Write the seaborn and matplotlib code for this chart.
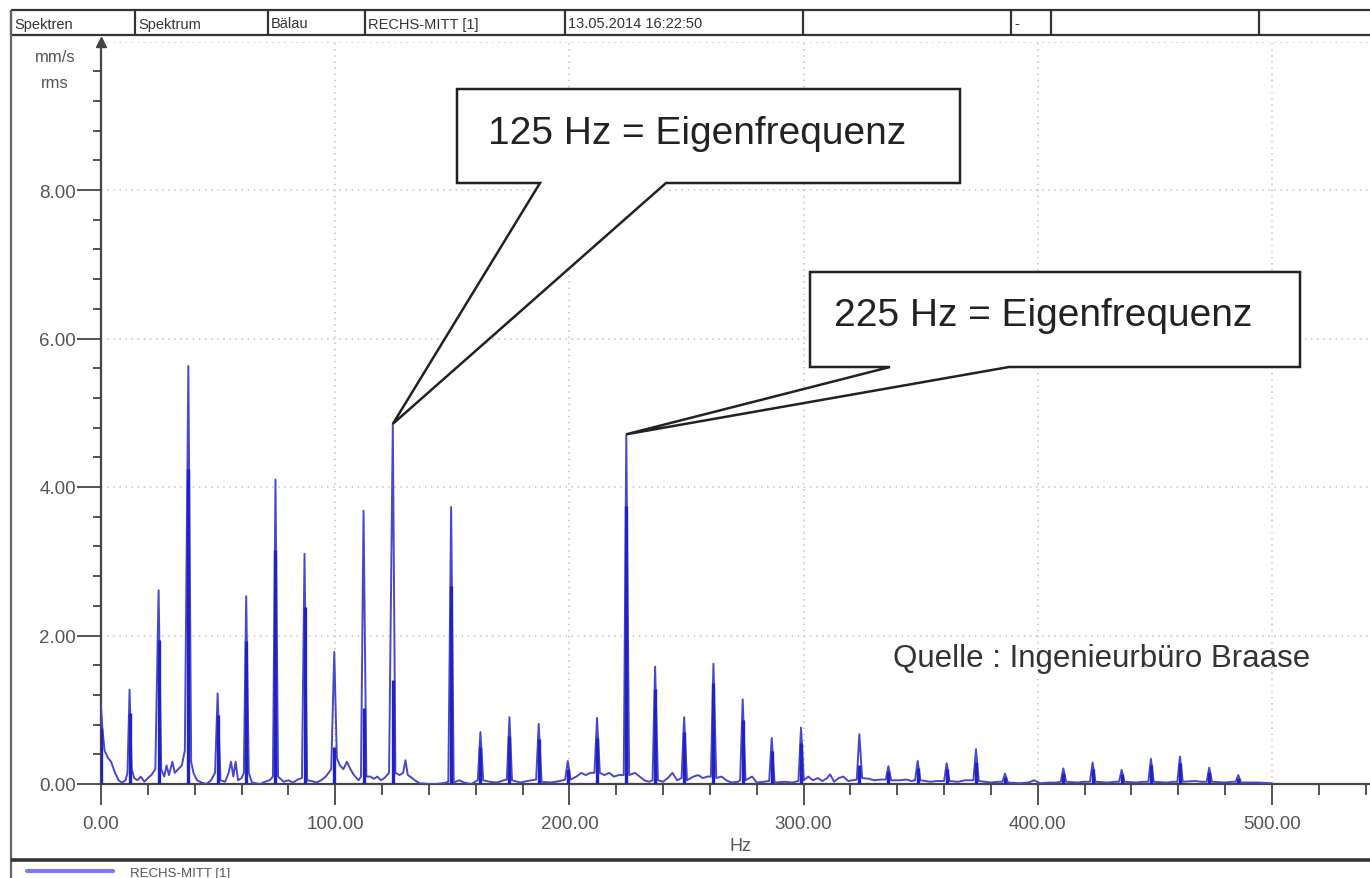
"""
Vibration spectrum (RECHS-MITT [1]) with the two natural-frequency callouts.
"""

import numpy as np
import pandas as pd
import matplotlib
matplotlib.use("Agg")
import matplotlib.pyplot as plt
from matplotlib.patches import Polygon
import seaborn as sns

# Header row of the report -----------------------------------------------------
header_cells = ["Spektren", "Spektrum", "Bälau", "RECHS-MITT [1]",
                "13.05.2014 16:22:50", "", "-", "", ""]

# Spectrum peaks (Hz, mm/s rms) and the darker lower part of each peak ----------
peak_freq = [0.0, 12.2, 24.6, 37.3, 49.8, 62.0, 74.5, 86.9, 99.6, 112.1,
             124.6, 149.5, 162.0, 174.4, 186.9, 199.3, 211.8, 224.3, 236.6, 249.0,
             261.5, 274.0, 286.4, 298.9, 323.8, 336.2, 348.7, 361.1, 373.6, 386.0,
             410.9, 423.4, 435.8, 448.3, 460.7, 473.2, 485.6]
peak_amp = [1.05, 1.27, 2.61, 5.63, 1.22, 2.53, 4.10, 3.10, 1.78, 3.68,
            4.85, 3.73, 0.70, 0.90, 0.81, 0.31, 0.89, 4.71, 1.58, 0.90,
            1.62, 1.14, 0.62, 0.76, 0.67, 0.24, 0.31, 0.28, 0.47, 0.14,
            0.21, 0.29, 0.19, 0.34, 0.37, 0.22, 0.12]
peak_core = [0.75, 0.95, 1.94, 4.24, 0.93, 1.92, 3.15, 2.38, 0.50, 1.02,
             1.40, 2.66, 0.50, 0.64, 0.60, 0.20, 0.62, 3.75, 1.28, 0.70,
             1.36, 0.86, 0.45, 0.55, 0.25, 0.17, 0.22, 0.20, 0.30, 0.09,
             0.15, 0.20, 0.14, 0.25, 0.28, 0.16, 0.08]

# Noise floor between the peaks (Hz, mm/s rms) ---------------------------------
floor_points = [
    (0.6, 0.75), (1.5, 0.45), (3.0, 0.35), (4.3, 0.30), (6.0, 0.15), (7.5, 0.05),
    (9.0, 0.02), (10.5, 0.05), (11.3, 0.15), (13.1, 0.20), (14.2, 0.08),
    (15.5, 0.05), (17.0, 0.10), (18.5, 0.03), (20.0, 0.08), (21.5, 0.12),
    (23.2, 0.20), (25.7, 0.20), (27.0, 0.10), (28.0, 0.25), (29.0, 0.12),
    (30.5, 0.30), (31.5, 0.15), (33.0, 0.20), (34.5, 0.25), (35.8, 0.45),
    (38.5, 0.30), (39.5, 0.15), (41.0, 0.05), (43.0, 0.02), (45.0, 0.00),
    (47.0, 0.05), (48.7, 0.15), (51.0, 0.05), (53.0, 0.03), (54.5, 0.15),
    (55.5, 0.30), (56.5, 0.10), (57.5, 0.30), (58.5, 0.05), (60.0, 0.08),
    (61.0, 0.15), (63.1, 0.15), (64.5, 0.02), (66.0, 0.01), (68.0, 0.00),
    (70.0, 0.03), (72.0, 0.05), (73.4, 0.10), (75.6, 0.10), (78.0, 0.03),
    (80.0, 0.05), (82.0, 0.02), (84.0, 0.06), (85.8, 0.08), (88.0, 0.05),
    (90.0, 0.04), (92.0, 0.02), (94.0, 0.05), (96.0, 0.10), (98.3, 0.20),
    (100.7, 0.35), (102.0, 0.25), (103.5, 0.20), (105.0, 0.30), (106.5, 0.20),
    (108.0, 0.12), (110.0, 0.05), (111.0, 0.10), (113.3, 0.10), (115.0, 0.10),
    (116.5, 0.07), (118.0, 0.10), (119.5, 0.05), (121.0, 0.08), (123.0, 0.15),
    (125.7, 0.15), (127.5, 0.12), (129.0, 0.15), (130.0, 0.32), (131.0, 0.12),
    (132.0, 0.10), (134.0, 0.05), (136.0, 0.01), (140.0, 0.00), (143.0, 0.00),
    (146.0, 0.01), (148.3, 0.03), (150.6, 0.02), (153.0, 0.05), (155.0, 0.02),
    (158.0, 0.00), (160.9, 0.05), (163.2, 0.05), (166.0, 0.03), (169.0, 0.02),
    (172.0, 0.05), (173.3, 0.06), (175.5, 0.05), (179.0, 0.02), (182.0, 0.04),
    (185.8, 0.06), (188.1, 0.03), (192.0, 0.02), (196.0, 0.04), (198.2, 0.06),
    (200.5, 0.06), (203.0, 0.10), (205.0, 0.15), (207.0, 0.12), (209.0, 0.15),
    (210.7, 0.15), (213.0, 0.15), (215.0, 0.12), (217.0, 0.15), (219.0, 0.10),
    (221.0, 0.12), (223.2, 0.12), (225.5, 0.12), (228.0, 0.15), (230.0, 0.10),
    (232.0, 0.05), (234.0, 0.03), (235.5, 0.05), (237.8, 0.05), (240.0, 0.03),
    (242.0, 0.08), (244.0, 0.15), (246.0, 0.05), (247.9, 0.08), (250.2, 0.05),
    (253.0, 0.10), (255.0, 0.12), (257.0, 0.08), (259.0, 0.10), (260.4, 0.10),
    (262.7, 0.08), (265.0, 0.10), (267.0, 0.05), (269.0, 0.02), (272.0, 0.03),
    (272.9, 0.05), (275.2, 0.05), (278.0, 0.10), (280.0, 0.02), (283.0, 0.03),
    (285.3, 0.04), (287.6, 0.02), (292.0, 0.03), (295.0, 0.02), (297.8, 0.04),
    (300.1, 0.05), (302.0, 0.10), (304.0, 0.05), (306.0, 0.08), (308.0, 0.04),
    (310.0, 0.08), (311.3, 0.13), (313.0, 0.03), (315.0, 0.08), (317.0, 0.10),
    (319.0, 0.04), (321.0, 0.05), (322.7, 0.06), (325.0, 0.08), (328.0, 0.07),
    (330.0, 0.05), (333.0, 0.06), (335.1, 0.06), (337.4, 0.05), (341.0, 0.05),
    (344.0, 0.06), (346.0, 0.04), (347.6, 0.05), (349.9, 0.05), (354.0, 0.03),
    (357.0, 0.04), (360.0, 0.04), (362.3, 0.04), (366.0, 0.03), (369.0, 0.05),
    (372.5, 0.05), (374.8, 0.04), (380.0, 0.02), (383.0, 0.03), (384.9, 0.03),
    (387.2, 0.02), (392.0, 0.01), (396.0, 0.02), (398.5, 0.05), (401.0, 0.01),
    (405.0, 0.02), (408.0, 0.02), (409.8, 0.03), (412.1, 0.03), (417.0, 0.02),
    (420.0, 0.03), (422.3, 0.03), (424.6, 0.03), (430.0, 0.02), (433.0, 0.03),
    (434.7, 0.03), (437.0, 0.03), (442.0, 0.02), (445.0, 0.03), (447.2, 0.03),
    (449.5, 0.03), (455.0, 0.02), (458.0, 0.03), (459.6, 0.03), (461.9, 0.03),
    (467.0, 0.04), (470.0, 0.03), (472.1, 0.03), (474.4, 0.03), (480.0, 0.02),
    (483.0, 0.03), (484.5, 0.03), (486.8, 0.02), (494.0, 0.02), (500.0, 0.01),
]

callouts = ["125 Hz = Eigenfrequenz", "225 Hz = Eigenfrequenz"]
callout_peaks = [124.6, 224.3]
source_note = "Quelle : Ingenieurbüro Braase"
series_name = "RECHS-MITT [1]"

# Figure geometry (pixels of the 1370 x 879 page) -------------------------------
W, H = 1370, 879
X0, Y0 = 101, 785              # pixel of (0 Hz, 0 mm/s)
PX_HZ, PX_UNIT = 2.342, 74.25  # pixels per Hz / per mm/s
XMAX, YMAX = 560, 10

LINE_BLUE = "#4848cc"
CORE_BLUE = "#2222c4"
AXIS_GREY = "#444444"


def px_to_data(px, py):
    return (px - X0) / PX_HZ, (Y0 - py) / PX_UNIT


def main():
    sns.set_style("white")
    plt.rcParams["font.family"] = ["Liberation Sans", "DejaVu Sans"]

    fig = plt.figure(figsize=(W / 100, H / 100), dpi=100)
    ax = fig.add_axes([X0 / W, (H - Y0) / H, XMAX * PX_HZ / W, YMAX * PX_UNIT / H])

    # spectrum line: floor and peaks together, sorted by frequency
    floor_freq = [f for f, _ in floor_points]
    floor_amp = [a for _, a in floor_points]
    df = pd.DataFrame({"freq": floor_freq + peak_freq,
                       "amp": floor_amp + peak_amp})
    sns.lineplot(data=df, x="freq", y="amp", ax=ax, color=LINE_BLUE,
                 lw=1.4, estimator=None, sort=True, zorder=3)
    ax.vlines(peak_freq, 0, peak_core, color=CORE_BLUE, lw=2.4, zorder=3)

    ax.set_xlim(0, XMAX)
    ax.set_ylim(0, YMAX)

    # ticks ----------------------------------------------------------------
    xt = list(range(0, 501, 100))
    ax.set_xticks(xt)
    ax.set_xticklabels([f"{v:.2f}" for v in xt])
    ax.set_xticks(np.arange(0, XMAX + 1, 20), minor=True)
    yt = [0, 2, 4, 6, 8]
    ax.set_yticks(yt)
    ax.set_yticklabels([f"{v:.2f}" for v in yt])
    ax.set_yticks(np.arange(0, 9.7, 0.4), minor=True)
    ax.tick_params(axis="x", which="major", length=15, width=1.3, pad=7,
                   bottom=True, color=AXIS_GREY, labelcolor="#555555",
                   labelsize=13.5, direction="out")
    ax.tick_params(axis="x", which="minor", length=8, width=1.3, bottom=True,
                   color=AXIS_GREY, direction="out")
    ax.tick_params(axis="y", which="major", length=17, width=1.3, pad=1,
                   left=True, color=AXIS_GREY, labelcolor="#555555",
                   labelsize=13.5, direction="out")
    ax.tick_params(axis="y", which="minor", length=6, width=1.3, left=True,
                   color=AXIS_GREY, direction="out")
    ax.set_xlabel("Hz", fontsize=13, color="#555555")
    ax.xaxis.set_label_coords((740 - X0) / (XMAX * PX_HZ), -(838 - Y0) / (YMAX * PX_UNIT))
    ax.set_ylabel("")

    # dotted grid
    for v in xt[1:]:
        ax.axvline(v, color="#c4c4c4", lw=1.1, ls=(0, (1, 3)), zorder=1)
    for v in yt[1:] + [YMAX]:
        ax.axhline(v, color="#c4c4c4", lw=1.1, ls=(0, (1, 3)), zorder=1)

    for side in ["top", "right"]:
        ax.spines[side].set_visible(False)
    for side in ["left", "bottom"]:
        ax.spines[side].set_color(AXIS_GREY)
        ax.spines[side].set_linewidth(1.6)
    ax.plot([0], [YMAX], marker="^", ms=7, color=AXIS_GREY, clip_on=False, zorder=4)

    # callouts pointing at the two natural frequencies --------------------------
    boxes = [
        # box left, right, top, bottom, gap left, gap right (pixels)
        (457, 960, 90, 184, 540, 666),
        (810, 1300, 273, 368, 890, 1009),
    ]
    text_px = [(488, 144), (834, 326)]
    for (l, r, t, b, g1, g2), pf, label, (tx, ty) in zip(boxes, callout_peaks,
                                                          callouts, text_px):
        ti = peak_freq.index(pf)
        tip = (peak_freq[ti], peak_amp[ti])
        pts = [px_to_data(l, t), px_to_data(r, t), px_to_data(r, b),
               px_to_data(g2, b), tip, px_to_data(g1, b), px_to_data(l, b)]
        ax.add_patch(Polygon(pts, closed=True, facecolor="white",
                             edgecolor="#222222", lw=1.8, zorder=5, joinstyle="miter"))
        ax.text(*px_to_data(tx, ty), label, fontsize=28, color="#222222",
                ha="left", va="baseline", zorder=6)

    # page furniture on a pixel overlay -----------------------------------------
    ov = fig.add_axes([0, 0, 1, 1])
    ov.set_xlim(0, W)
    ov.set_ylim(H, 0)
    ov.axis("off")

    edges = [11, 135, 268, 365, 565, 803, 1011, 1051, 1259, W + 20]
    ov.hlines([11, 36], 11, W, color="#333333", lw=1.6)
    ov.vlines(edges[:-1], 11, 36, color="#333333", lw=1.6)
    for x, txt in zip(edges, header_cells):
        ov.text(x + 3, 24.5, txt, fontsize=10.5, color="#333333", va="center", ha="left")

    ov.vlines(11, 11, H, color="#666666", lw=1.6)
    ov.hlines(861, 11, W, color="#333333", lw=2.6)
    ov.plot([27, 113], [872, 872], color="#7b7bf5", lw=3)
    ov.text(130, 874, series_name, fontsize=9.5, color="#555555", va="center", ha="left")

    ov.text(55, 58, "mm/s", fontsize=12, color="#555555", ha="center", va="center")
    ov.text(55, 84, "rms", fontsize=12, color="#555555", ha="center", va="center")
    ov.text(893, 667, source_note, fontsize=22.5, color="#333333",
            ha="left", va="baseline")

    fig.savefig("out.png", dpi=100, facecolor="white")


if __name__ == "__main__":
    main()
